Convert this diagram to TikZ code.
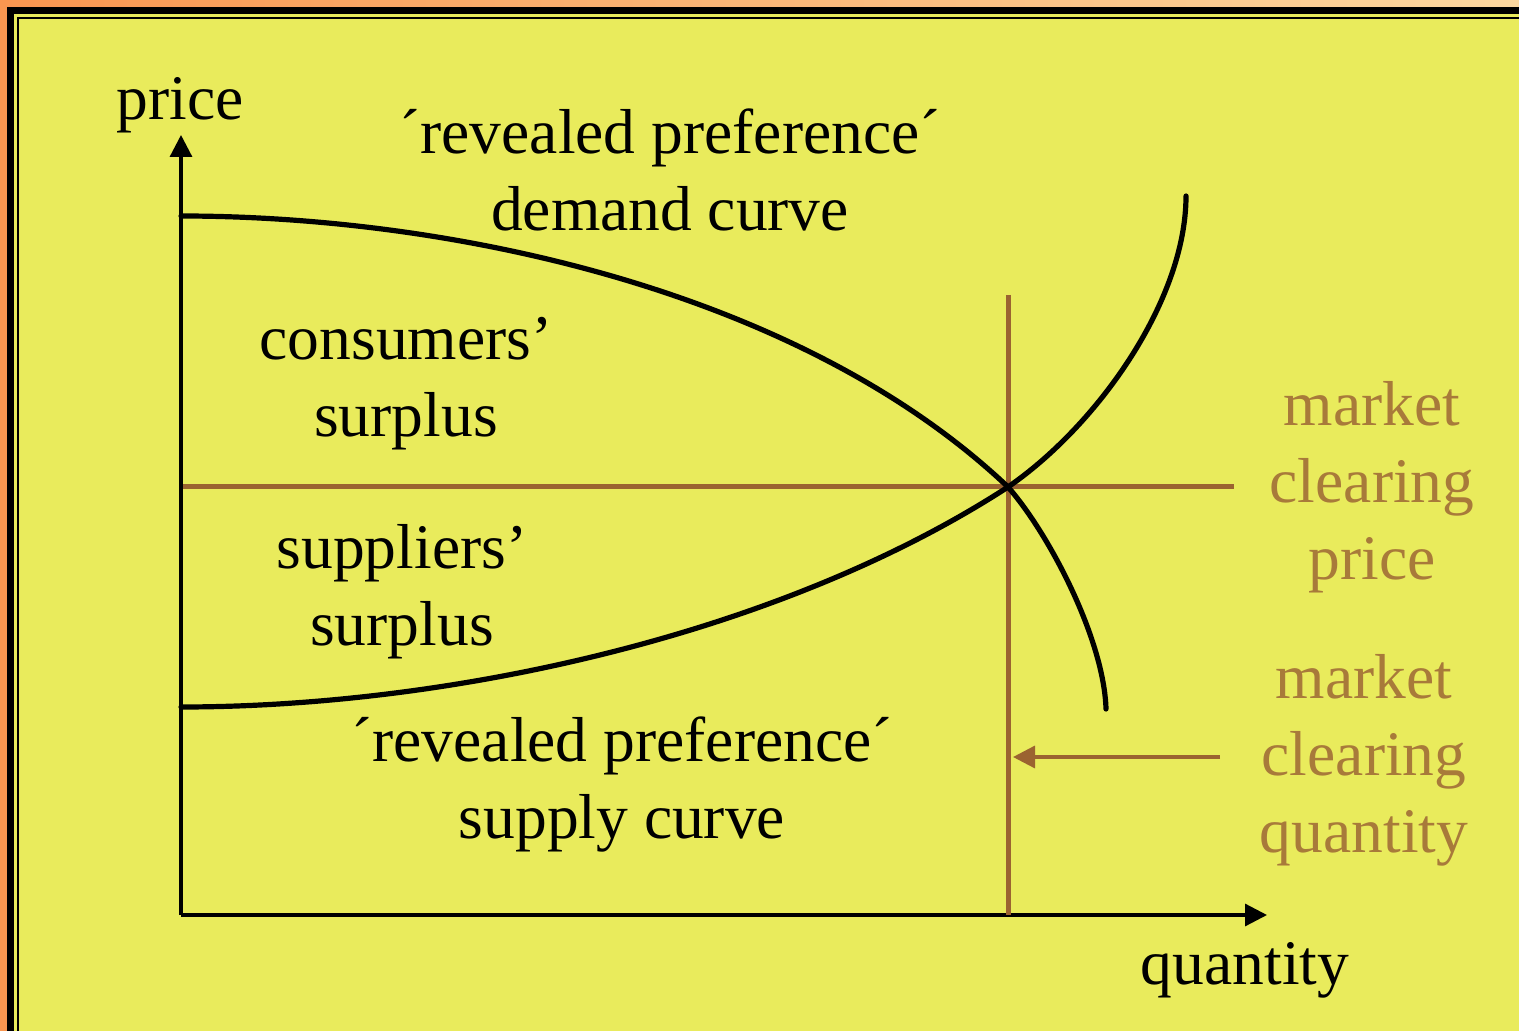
\documentclass[tikz,border=0pt]{standalone}
\usepackage{fontspec}
\setmainfont{Liberation Serif}
\usetikzlibrary{arrows.meta}
\definecolor{slideyellow}{RGB}{233,235,92}
\definecolor{linebrown}{RGB}{155,99,48}
\definecolor{textbrown}{RGB}{168,122,58}
\begin{document}
\begin{tikzpicture}[x=0.5pt, y=-0.5pt,
    lbl/.style={inner sep=0pt, align=center, font=\fontsize{31.75}{38.5}\selectfont},
    tip/.style={-{Triangle[length=11pt, width=11pt]}}]
    \useasboundingbox (0,0) rectangle (1519,1031);

    % 边框
    \shade[left color={rgb,255:red,249;green,150;blue,80}, right color={rgb,255:red,252;green,216;blue,160}] (0,0) rectangle (1519,1031);
    \fill[black] (7,7) rectangle (1540,1050);
    \fill[slideyellow] (14,14) rectangle (1540,1050);
    \fill[black] (17,17) rectangle (1540,1050);
    \fill[slideyellow] (19,19) rectangle (1540,1050);

    % 坐标轴
    \coordinate (O) at (181,915);
    \coordinate (ytip) at (181,135);
    \coordinate (xtip) at (1267,915);
    \draw[line width=1.6pt, tip] (O) -- (ytip);
    \draw[line width=1.6pt, tip] (O) -- (xtip);

    % 均衡价格与数量
    \coordinate (E) at (1008,487);
    \draw[linebrown, line width=2.5pt] (183,487) -- (1234,487);
    \draw[linebrown, line width=2.5pt] (1008,295) -- (1008,915);

    % 需求曲线
    \draw[line width=2.6pt, line cap=round] (181,216) .. controls (450,216) and (800,290) .. (E)
        .. controls (1050,535) and (1104,640) .. (1106,709);
    % 供给曲线
    \draw[line width=2.6pt, line cap=round] (181,707) .. controls (450,707) and (780,635) .. (E)
        .. controls (1098,425) and (1186,300) .. (1186,196);

    % 文字
    \node[lbl] (price) at (180,105) {price};
    \node[lbl] (quantity) at (1245,970) {quantity};
    \node[lbl] (demand) at (670,170) {´revealed preference´\\demand curve};
    \node[lbl] (supply) at (622,784) {´revealed preference´\\supply curve};
    \node[lbl] (consumers) at (406,384) {consumers’\\surplus};
    \node[lbl] (suppliers) at (402,592) {suppliers’\\surplus};
    \node[lbl, text=textbrown] (mprice) at (1372,487) {market\\clearing\\price};
    \node[lbl, text=textbrown] (mquantity) at (1364,760) {market\\clearing\\quantity};

    % 指向均衡数量
    \coordinate (qfrom) at (1220,757);
    \coordinate (qto) at (1013,757);
    \draw[linebrown, line width=1.7pt, tip] (qfrom) -- (qto);
\end{tikzpicture}
\end{document}
